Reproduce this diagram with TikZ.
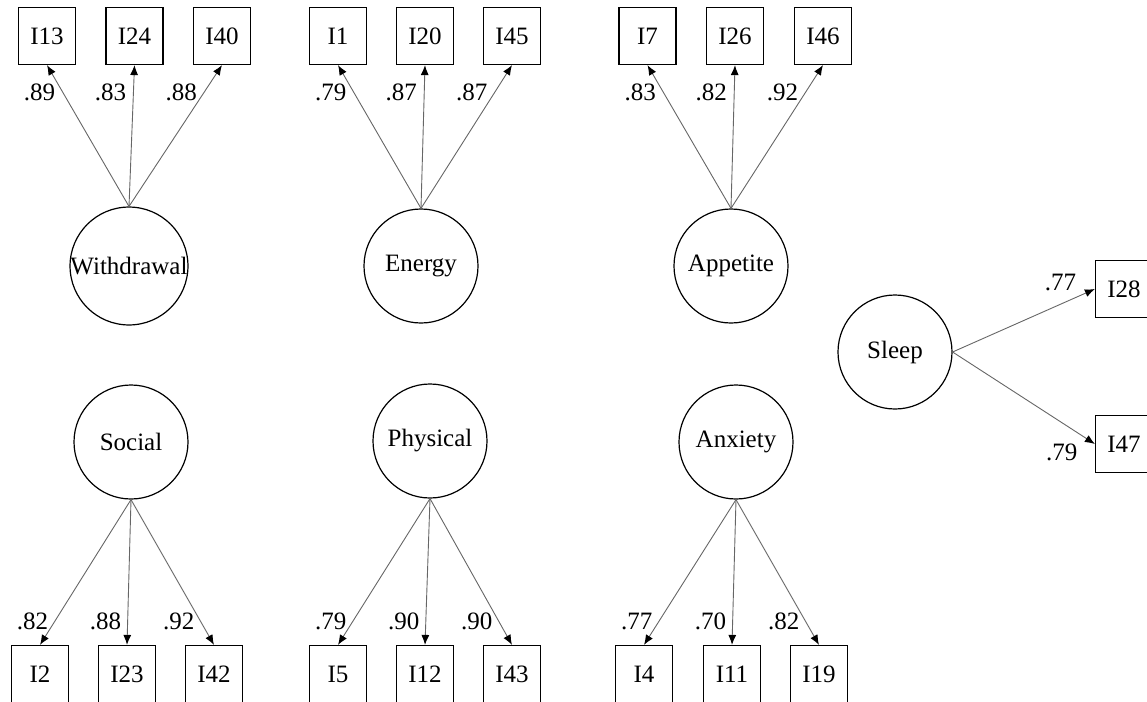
\documentclass[tikz,border=0pt]{standalone}
\usepackage{fontspec}
\setmainfont{Liberation Serif}
\usetikzlibrary{arrows.meta, positioning}

\begin{document}
\begin{tikzpicture}[x=0.5pt, y=-0.5pt,
    font=\fontsize{12.5}{14}\selectfont,
    factor/.style={circle, draw, line width=0.6pt, minimum size=57pt, inner sep=0pt},
    item/.style={rectangle, draw, line width=0.6pt, minimum size=28.5pt, inner sep=0pt},
    load/.style={draw=black!60, line width=0.45pt,
      -{Latex[length=5pt, width=4pt, color=black]}},
    up/.style={anchor=east, pos=.81, inner sep=3.5pt},
    down/.style={anchor=east, pos=.84, inner sep=3pt}]
  \useasboundingbox (0,0) rectangle (1147,702);

  % factors
  \node[factor] (wd) at (129,266) {Withdrawal};
  \node[factor] (en) at (421,266) {Energy};
  \node[factor] (ap) at (731,266) {Appetite};
  \node[factor] (so) at (131,442) {Social};
  \node[factor] (ph) at (430,441) {Physical};
  \node[factor] (ax) at (736,442) {Anxiety};
  \node[factor] (sl) at (895,352) {Sleep};

  % items
  \node[item] (i13) at (47,36) {I13};
  \node[item] (i24) at (134.5,36) {I24};
  \node[item] (i40) at (222,36) {I40};
  \node[item] (i1) at (338,36) {I1};
  \node[item] (i20) at (425,36) {I20};
  \node[item] (i45) at (512,36) {I45};
  \node[item] (i7) at (647.5,36) {I7};
  \node[item] (i26) at (735,36) {I26};
  \node[item] (i46) at (823,36) {I46};
  \node[item] (i2) at (40,674) {I2};
  \node[item] (i23) at (127,674) {I23};
  \node[item] (i42) at (214,674) {I42};
  \node[item] (i5) at (338,674) {I5};
  \node[item] (i12) at (425,674) {I12};
  \node[item] (i43) at (512,674) {I43};
  \node[item] (i4) at (644,674) {I4};
  \node[item] (i11) at (732,674) {I11};
  \node[item] (i19) at (819,674) {I19};
  \node[item] (i28) at (1124,289) {I28};
  \node[item] (i47) at (1124,444) {I47};

  \draw (wd.north) edge[load] node[up]{.89} (i13.south)
    (wd.north) edge[load] node[up]{.83} (i24.south)
    (wd.north) edge[load] node[up]{.88} (i40.south)
    (en.north) edge[load] node[up]{.79} (i1.south)
    (en.north) edge[load] node[up]{.87} (i20.south)
    (en.north) edge[load] node[up]{.87} (i45.south)
    (ap.north) edge[load] node[up]{.83} (i7.south)
    (ap.north) edge[load] node[up]{.82} (i26.south)
    (ap.north) edge[load] node[up]{.92} (i46.south)
    ;
  \draw (so.south) edge[load] node[down]{.82} (i2.north)
    (so.south) edge[load] node[down]{.88} (i23.north)
    (so.south) edge[load] node[down]{.92} (i42.north)
    (ph.south) edge[load] node[down]{.79} (i5.north)
    (ph.south) edge[load] node[down]{.90} (i12.north)
    (ph.south) edge[load] node[down]{.90} (i43.north)
    (ax.south) edge[load] node[down]{.77} (i4.north)
    (ax.south) edge[load] node[down]{.70} (i11.north)
    (ax.south) edge[load] node[down]{.82} (i19.north)
    ;
  \draw (sl.east) edge[load] node[pos=.9, anchor=south east, inner sep=2pt]{.77} (i28.west)
    (sl.east) edge[load] node[pos=.95, anchor=north east, inner sep=2pt, xshift=-3pt]{.79} (i47.west)
    ;
\end{tikzpicture}
\end{document}
